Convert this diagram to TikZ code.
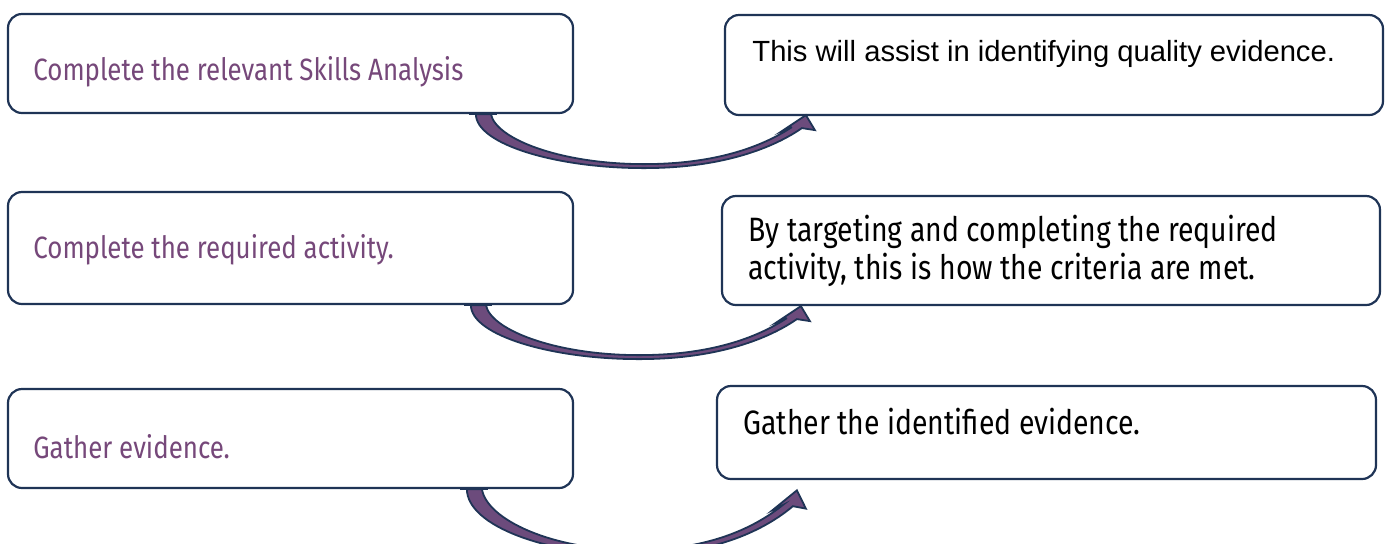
\documentclass[tikz,border=0pt]{standalone}
\usepackage{fontspec}
\usetikzlibrary{calc}
\setmainfont{Liberation Sans}
\newfontfamily\condfont[FakeStretch=0.84]{Fira Sans}
\definecolor{navy}{HTML}{1F3456}
\definecolor{plum}{HTML}{76487A}
\definecolor{arrowfill}{HTML}{6C4B7C}
\tikzset{
  box/.style={draw=navy, line width=1.1pt, rounded corners=7pt, fill=white, inner sep=0pt},
  lefttxt/.style={anchor=west, inner sep=0pt, font=\condfont\fontsize{15.4}{18}\selectfont, text=plum},
  righttxt/.style={anchor=west, inner sep=0pt, font=\condfont\fontsize{16.9}{19.3}\selectfont, text=black, align=left},
  carrow/.pic={
    \filldraw[fill=arrowfill, draw=navy, line width=0.9pt, line join=miter]
      (0,0) .. controls (0,30) and (80,54) .. (168,54)
      .. controls (250,54) and (300,32) .. (326,14)
      -- (339,16) -- (330,1) -- (306,17) -- (316,13)
      .. controls (290,30) and (245,50) .. (168,50)
      .. controls (85,50) and (20,25) .. (15,0) -- cycle;
  }
}
\begin{document}
\begin{tikzpicture}[x=0.5pt, y=-0.5pt]
\useasboundingbox (0,0) rectangle (1386,543);
% boxes
\node[box, minimum width=282.5pt, minimum height=49.5pt] (L1) at (290.5,63.5) {};
\node[box, minimum width=329pt, minimum height=50pt] (R1) at (1054,65) {};
\node[box, minimum width=282.5pt, minimum height=56pt] (L2) at (290.5,248) {};
\node[box, minimum width=329pt, minimum height=54.5pt] (R2) at (1051,250.5) {};
\node[box, minimum width=282.5pt, minimum height=49.5pt] (L3) at (290.5,438.5) {};
\node[box, minimum width=329.5pt, minimum height=46.5pt] (R3) at (1046.5,432.5) {};
% arrows
\begin{scope}
\clip (0,0) rectangle (1386,543);
\pic at ($(L1.south west)+(469,0)$) {carrow};
\pic at ($(L2.south west)+(464,0)$) {carrow};
\pic[yscale=1.22] at ($(L3.south west)+(460,0)$) {carrow};
\end{scope}
% redraw box bottom edges over arrow tops
\draw[navy, line width=1.1pt] ($(L1.south west)+(462,0)$) -- ($(L1.south west)+(490,0)$);
\draw[navy, line width=1.1pt] ($(L2.south west)+(457,0)$) -- ($(L2.south west)+(485,0)$);
\draw[navy, line width=1.1pt] ($(L3.south west)+(453,0)$) -- ($(L3.south west)+(481,0)$);
% texts
\node[lefttxt] (t1) at (33,72) {Complete the relevant Skills Analysis};
\node[lefttxt] (t2) at (33,250) {Complete the required activity.};
\node[lefttxt] (t3) at (33,447) {Gather evidence.};
\node[anchor=west, inner sep=0pt, font=\fontsize{14.6}{17}\selectfont] (t4) at (752,54) {This will assist in identifying quality evidence.};
\node[righttxt] (t5) at (748,251) {By targeting and completing the required\\activity, this is how the criteria are met.};
\node[righttxt] (t6) at (743,422) {Gather the identified evidence.};
\end{tikzpicture}
\end{document}
